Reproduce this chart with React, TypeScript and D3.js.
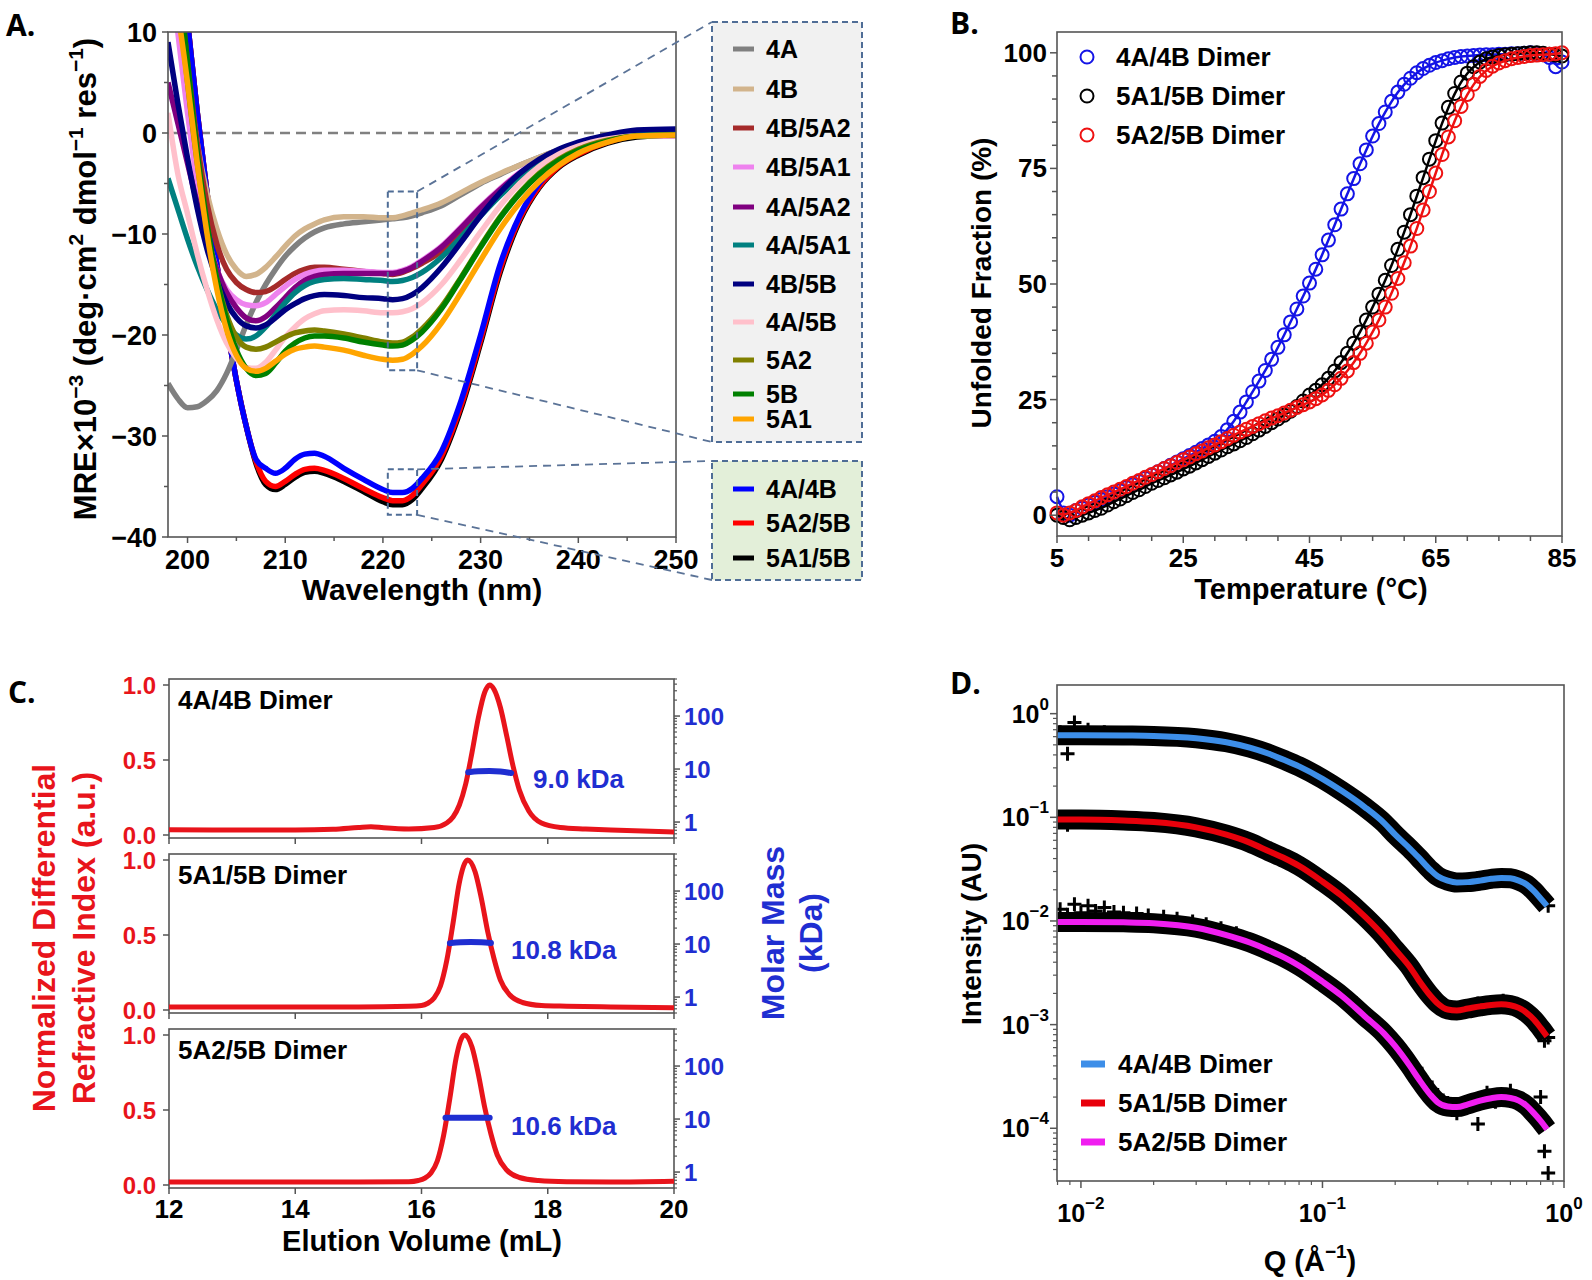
import React from 'react';
import * as d3 from 'd3';

const FONT = "'Liberation Sans', Arial, Helvetica, sans-serif";
const LETTER_FONT = "'Open Sans', 'Liberation Sans', sans-serif";

// ---------- A. CD spectra (MRE x10^-3) ----------
const wavelength = [198, 199, 200, 201, 202, 203, 204, 205, 206, 207, 208, 209, 210, 211, 212, 213, 214, 216, 218, 220, 221, 222, 223, 224, 226, 228, 230, 232, 234, 236, 238, 240, 243, 246, 250];
const cd4A = [-24.8, -26.3, -27.2, -27.1, -26.5, -25.5, -23.8, -21.5, -19, -16.8, -15, -13.5, -12.2, -11.2, -10.4, -9.8, -9.4, -9, -8.8, -8.6, -8.5, -8.4, -8.2, -7.9, -7.2, -6.1, -5, -4.1, -3.2, -2.4, -1.7, -1.1, -0.5, -0.3, -0.3];
const cd4B = [25, 15, 6, -1, -6, -9.5, -12, -13.5, -14.2, -14, -13.3, -12.3, -11.2, -10.2, -9.5, -9, -8.6, -8.3, -8.3, -8.4, -8.4, -8.2, -7.9, -7.6, -6.9, -5.9, -4.9, -4, -3.2, -2.4, -1.7, -1.1, -0.5, -0.3, -0.3];
const cd4B5A2 = [25, 16, 7, -1, -7, -11, -13.5, -14.8, -15.5, -15.8, -15.7, -15.2, -14.5, -13.9, -13.5, -13.3, -13.3, -13.5, -13.7, -13.9, -14, -13.8, -13.4, -12.9, -11.7, -9.8, -7.7, -5.7, -4, -2.8, -1.8, -1.1, -0.5, -0.3, -0.3];
const cd4B5A1 = [18, 10, 2, -5, -10, -13.5, -15.5, -16.5, -17, -17.1, -16.8, -16, -15.2, -14.5, -14, -13.7, -13.6, -13.6, -13.7, -13.8, -13.8, -13.6, -13.2, -12.6, -11.2, -9.3, -7.3, -5.5, -3.9, -2.7, -1.8, -1.1, -0.5, -0.3, -0.3];
const cd4A5A2 = [5, 1, -3, -7, -10.5, -13.5, -15.8, -17.3, -18.3, -18.6, -18.2, -17.3, -16.3, -15.3, -14.6, -14.2, -14, -13.9, -13.9, -13.9, -13.9, -13.7, -13.3, -12.7, -11.3, -9.4, -7.4, -5.6, -4, -2.8, -1.8, -1.1, -0.5, -0.3, -0.3];
const cd4A5A1 = [-4.5, -7.5, -10.5, -13.2, -15.5, -17.5, -19, -20, -20.4, -20.1, -19.2, -18, -16.8, -15.8, -15.1, -14.7, -14.5, -14.4, -14.5, -14.6, -14.7, -14.6, -14.3, -13.8, -12.3, -10.3, -8.2, -6.2, -4.4, -3, -1.9, -1.1, -0.4, -0.1, 0];
const cd4B5B = [9, 3, -2.5, -7.5, -11.5, -14.5, -16.8, -18.3, -19.1, -19.3, -19, -18.3, -17.5, -16.9, -16.4, -16.1, -16, -16.1, -16.3, -16.4, -16.5, -16.4, -16, -15.3, -13.3, -10.8, -8.2, -5.9, -4, -2.6, -1.6, -0.9, -0.2, 0.3, 0.4];
const cd4A5B = [2, -4, -8, -12, -15.5, -18.5, -20.8, -22.3, -23.2, -23.3, -22.7, -21.5, -20.2, -19.2, -18.4, -17.9, -17.6, -17.5, -17.6, -17.8, -17.8, -17.7, -17.4, -16.8, -15, -12.5, -9.8, -7.2, -5, -3.3, -2.1, -1.3, -0.6, -0.3, -0.3];
const cd5A2 = [22, 14, 5, -3, -9.5, -14.5, -18, -20.2, -21.2, -21.4, -21.2, -20.7, -20.2, -19.8, -19.6, -19.5, -19.6, -19.9, -20.3, -20.7, -20.8, -20.7, -20.2, -19.4, -17.2, -14.3, -11.2, -8.3, -5.9, -4, -2.6, -1.6, -0.7, -0.3, -0.2];
const cd5B = [25, 16, 7, -2, -9, -14.5, -18.5, -21.5, -23.3, -24, -23.8, -22.8, -21.6, -20.8, -20.3, -20.1, -20.1, -20.3, -20.7, -21, -21.1, -21, -20.5, -19.7, -17.4, -14.4, -11.3, -8.4, -6, -4.1, -2.7, -1.7, -0.8, -0.3, -0.2];
const cd5A1 = [18, 12, 5, -3, -10, -15.5, -19.5, -22, -23.3, -23.6, -23.3, -22.6, -21.9, -21.4, -21.2, -21.1, -21.2, -21.5, -22, -22.4, -22.5, -22.4, -21.9, -21.1, -18.8, -15.8, -12.6, -9.5, -6.9, -4.8, -3.2, -2, -0.9, -0.3, -0.2];
const cd4A4B = [30, 21, 11, 2, -6, -13, -19, -24.5, -29, -32.3, -33.2, -33.7, -33.2, -32.3, -31.8, -31.7, -32, -33.2, -34.3, -35.3, -35.6, -35.6, -35.2, -34.2, -31.5, -26.5, -20, -13, -8.2, -5, -3, -1.8, -0.6, 0, 0.2];
const cd5A25B = [30, 21, 11, 2, -6, -13, -19, -24.5, -29, -32.5, -34.5, -35, -34.5, -33.8, -33.3, -33.2, -33.4, -34.2, -35.2, -36.1, -36.4, -36.4, -35.9, -34.8, -32, -27, -20.5, -13.5, -8.5, -5.3, -3.3, -2.1, -0.9, -0.3, -0.2];
const cd5A15B = [30, 21, 11, 2, -6, -13, -19, -24.5, -29, -32.7, -34.8, -35.3, -34.8, -34.1, -33.6, -33.5, -33.7, -34.5, -35.5, -36.5, -36.8, -36.8, -36.3, -35.2, -32.3, -27.3, -20.8, -13.8, -8.7, -5.4, -3.4, -2.2, -1, -0.4, -0.2];

const cdPairs = [cd4A, cd4B, cd4B5A2, cd4B5A1, cd4A5A2, cd4A5A1, cd4B5B, cd4A5B, cd5A2, cd5B, cd5A1];
const cdPairNames = ['4A', '4B', '4B/5A2', '4B/5A1', '4A/5A2', '4A/5A1', '4B/5B', '4A/5B', '5A2', '5B', '5A1'];
const cdPairColors = ['#808080', '#d2b48c', '#a52a2a', '#ee82ee', '#800080', '#008080', '#000080', '#ffc0cb', '#808000', '#008000', '#ffa500'];
const cdDimers = [cd4A4B, cd5A25B, cd5A15B];
const cdDimerNames = ['4A/4B', '5A2/5B', '5A1/5B'];
const cdDimerColors = ['#0000ff', '#ff0000', '#000000'];

const wlTicks = [200, 205, 210, 215, 220, 225, 230, 235, 240, 245, 250];
const wlLabels = [200, 210, 220, 230, 240, 250];
const mreTicks = [-40, -35, -30, -25, -20, -15, -10, -5, 0, 5, 10];
const mreLabels = [-40, -30, -20, -10, 0, 10];
// zoomed regions [x0, x1, yTop, yBottom]
const zoomBoxes = [[220.5, 223.5, -5.8, -23.5], [220.5, 223.5, -33.3, -37.8]];

// ---------- B. thermal melts ----------
const tempC = [5, 6, 7, 8, 9, 10, 11, 12, 13, 14, 15, 16, 17, 18, 19, 20, 21, 22, 23, 24, 25, 26, 27, 28, 29, 30, 31, 32, 33, 34, 35, 36, 37, 38, 39, 40, 41, 42, 43, 44, 45, 46, 47, 48, 49, 50, 51, 52, 53, 54, 55, 56, 57, 58, 59, 60, 61, 62, 63, 64, 65, 66, 67, 68, 69, 70, 71, 72, 73, 74, 75, 76, 77, 78, 79, 80, 81, 82, 83, 84, 85];
const unf4A4B = [4.0, 0.5, 0.0, 1.0, 1.5, 2.2, 2.8, 3.4, 4.0, 4.6, 5.3, 6.0, 6.6, 7.3, 8.0, 8.7, 9.4, 10.1, 10.8, 11.5, 12.2, 12.9, 13.6, 14.4, 15.2, 16.0, 17.0, 18.5, 20.3, 22.3, 24.5, 26.7, 29.0, 31.3, 33.7, 36.3, 39.0, 41.8, 44.6, 47.4, 50.2, 53.2, 56.3, 59.5, 62.8, 66.2, 69.5, 72.8, 76.0, 79.0, 82.0, 84.7, 87.2, 89.5, 91.5, 93.2, 94.5, 95.7, 96.6, 97.3, 97.9, 98.3, 98.7, 99.0, 99.2, 99.3, 99.4, 99.5, 99.6, 99.6, 99.7, 99.7, 99.8, 99.8, 99.9, 100, 99.9, 99.6, 99.0, 97.0, 98.0];
const unf5A15B = [0.0, -0.5, -1.0, -0.5, 0.0, 0.5, 1.0, 1.5, 2.2, 2.9, 3.5, 4.2, 4.9, 5.5, 6.2, 6.9, 7.5, 8.1, 8.7, 9.3, 10.0, 10.6, 11.3, 12.0, 12.7, 13.4, 14.1, 14.8, 15.4, 16.1, 16.8, 17.6, 18.4, 19.2, 20.0, 20.8, 21.6, 22.5, 23.5, 24.7, 26.0, 27.0, 28.2, 29.6, 31.2, 33.0, 35.0, 37.2, 39.6, 42.2, 45.0, 47.8, 50.8, 54.0, 57.5, 61.2, 65.0, 69.0, 73.0, 77.0, 81.0, 84.8, 88.2, 91.2, 93.7, 95.6, 97.0, 98.0, 98.7, 99.1, 99.4, 99.6, 99.7, 99.8, 99.9, 100, 100, 99.9, 99.7, 99.5, 99.3];
const unf5A25B = [0.5, 0.0, 0.5, 1.0, 1.8, 2.5, 3.1, 3.8, 4.4, 5.0, 5.6, 6.2, 6.9, 7.5, 8.2, 8.8, 9.4, 10.1, 10.7, 11.4, 12.0, 12.6, 13.3, 13.9, 14.6, 15.2, 15.9, 16.6, 17.3, 18.0, 18.6, 19.2, 19.8, 20.4, 21.0, 21.5, 22.1, 22.7, 23.3, 23.9, 24.5, 25.2, 26.0, 27.0, 28.2, 29.6, 31.2, 33.0, 35.0, 37.2, 39.6, 42.2, 45.0, 48.0, 51.2, 54.6, 58.2, 62.0, 66.0, 70.0, 74.0, 78.0, 81.8, 85.3, 88.4, 91.0, 93.2, 94.9, 96.2, 97.1, 97.8, 98.3, 98.7, 99.0, 99.2, 99.4, 99.5, 99.6, 99.7, 99.8, 100];
const meltSeries = [unf4A4B, unf5A15B, unf5A25B];
const meltNames = ['4A/4B Dimer', '5A1/5B Dimer', '5A2/5B Dimer'];
const meltColors = ['#1414e6', '#000000', '#ee1111'];
const tempTicks = [5, 10, 15, 20, 25, 30, 35, 40, 45, 50, 55, 60, 65, 70, 75, 80, 85];
const tempLabels = [5, 25, 45, 65, 85];
const fracTicks = [0, 5, 10, 15, 20, 25, 30, 35, 40, 45, 50, 55, 60, 65, 70, 75, 80, 85, 90, 95, 100];
const fracLabels = [0, 25, 50, 75, 100];

// ---------- C. SEC-MALS ----------
const elution1 = [12, 13, 14, 14.6, 15.0, 15.2, 15.4, 15.8, 16.2, 16.4, 16.5, 16.6, 16.7, 16.8, 16.9, 17.0, 17.08, 17.15, 17.25, 17.35, 17.45, 17.55, 17.7, 17.9, 18.2, 18.6, 19, 20];
const dri1 = [0.035, 0.033, 0.033, 0.038, 0.05, 0.055, 0.048, 0.04, 0.05, 0.08, 0.12, 0.2, 0.34, 0.55, 0.78, 0.95, 1.0, 0.97, 0.85, 0.66, 0.46, 0.3, 0.16, 0.08, 0.05, 0.04, 0.033, 0.02];
const elution2 = [12, 14, 15, 15.8, 16.0, 16.1, 16.2, 16.3, 16.4, 16.5, 16.6, 16.73, 16.85, 16.95, 17.05, 17.15, 17.25, 17.4, 17.6, 17.9, 18.3, 19, 20];
const dri2 = [0.02, 0.02, 0.02, 0.025, 0.03, 0.045, 0.08, 0.16, 0.33, 0.58, 0.85, 1.0, 0.92, 0.74, 0.52, 0.34, 0.2, 0.1, 0.05, 0.03, 0.025, 0.02, 0.015];
const elution3 = [12, 14, 15, 15.8, 15.95, 16.05, 16.15, 16.25, 16.35, 16.45, 16.55, 16.68, 16.8, 16.9, 17.0, 17.1, 17.2, 17.35, 17.55, 17.85, 18.3, 19, 20];
const dri3 = [0.02, 0.02, 0.02, 0.022, 0.03, 0.045, 0.08, 0.16, 0.33, 0.58, 0.85, 1.0, 0.92, 0.74, 0.52, 0.34, 0.2, 0.1, 0.05, 0.03, 0.022, 0.02, 0.025];
const massVol1 = [16.74, 16.9, 17.08, 17.25, 17.42];
const mass1 = [8.7, 9.1, 9.2, 9.0, 8.4];
const massVol2 = [16.45, 16.62, 16.78, 16.95, 17.1];
const mass2 = [10.4, 10.8, 10.9, 10.8, 10.5];
const massVol3 = [16.38, 16.55, 16.73, 16.9, 17.08];
const mass3 = [10.6, 10.6, 10.6, 10.6, 10.6];
const secNames = ['4A/4B Dimer', '5A1/5B Dimer', '5A2/5B Dimer'];
const secMassLabels = ['9.0 kDa', '10.8 kDa', '10.6 kDa'];
const secMassValues = [9.0, 10.8, 10.6];
const volTicks = [12, 14, 16, 18, 20];
const driTicks = [0, 0.5, 1.0];
const massMajor = [1, 10, 100];

// ---------- D. SAXS ----------
const qFit = [0.008, 0.01, 0.015, 0.02, 0.03, 0.04, 0.05, 0.06, 0.07, 0.08, 0.1, 0.12, 0.15, 0.18, 0.2, 0.23, 0.25, 0.28, 0.3, 0.33, 0.36, 0.4, 0.45, 0.5, 0.55, 0.6, 0.65, 0.7, 0.75, 0.8, 0.85];
const fit4A4B = [0.62, 0.62, 0.615, 0.61, 0.58, 0.53, 0.47, 0.41, 0.355, 0.31, 0.235, 0.18, 0.125, 0.088, 0.068, 0.05, 0.041, 0.031, 0.027, 0.0245, 0.0235, 0.0237, 0.0245, 0.0255, 0.026, 0.0258, 0.0245, 0.0225, 0.0195, 0.0165, 0.014];
const fit5A15B = [0.095, 0.095, 0.093, 0.09, 0.08, 0.068, 0.057, 0.047, 0.04, 0.034, 0.024, 0.0175, 0.011, 0.0071, 0.0053, 0.0036, 0.0027, 0.0019, 0.0016, 0.0014, 0.00137, 0.00143, 0.0015, 0.00155, 0.00157, 0.00154, 0.00145, 0.0013, 0.00112, 0.00093, 0.00077];
const fit5A25B = [0.0098, 0.0098, 0.0097, 0.0095, 0.0086, 0.0073, 0.0062, 0.0052, 0.0044, 0.0037, 0.0026, 0.0019, 0.0012, 0.00082, 0.00062, 0.0004, 0.0003, 0.00021, 0.000178, 0.000162, 0.00016, 0.00017, 0.000185, 0.000195, 0.0002, 0.000196, 0.000185, 0.000165, 0.00014, 0.000118, 0.000098];
const qData = [0.0082, 0.0088, 0.0094, 0.01, 0.0107, 0.0115, 0.0125, 0.0137, 0.015, 0.017, 0.019, 0.022, 0.025, 0.029, 0.033, 0.038, 0.044, 0.05, 0.057, 0.065, 0.074, 0.084, 0.095, 0.108, 0.122, 0.138, 0.155, 0.175, 0.195, 0.22, 0.245, 0.27, 0.3, 0.33, 0.36, 0.4, 0.44, 0.48, 0.52, 0.56, 0.6, 0.64, 0.68, 0.72, 0.76, 0.8, 0.83, 0.86];
const obs4A4B = [0.66, 0.41, 0.82, 0.6, 0.7, 0.63, 0.66, 0.6, 0.64, 0.62, 0.6, 0.61, 0.6, 0.59, 0.57, 0.55, 0.51, 0.47, 0.43, 0.385, 0.34, 0.295, 0.255, 0.215, 0.18, 0.148, 0.12, 0.095, 0.077, 0.06, 0.047, 0.037, 0.029, 0.026, 0.024, 0.025, 0.026, 0.025, 0.027, 0.025, 0.027, 0.024, 0.024, 0.021, 0.02, 0.017, 0.016, 0.014];
const obs5A15B = [0.1, 0.085, 0.1, 0.093, 0.097, 0.09, 0.098, 0.092, 0.095, 0.093, 0.091, 0.09, 0.087, 0.083, 0.078, 0.072, 0.065, 0.058, 0.051, 0.044, 0.038, 0.032, 0.0265, 0.021, 0.0168, 0.0132, 0.0101, 0.0076, 0.0058, 0.0042, 0.0031, 0.0023, 0.0017, 0.00145, 0.0014, 0.0014, 0.0016, 0.0015, 0.0016, 0.0017, 0.0015, 0.0015, 0.0014, 0.0012, 0.0011, 0.0009, 0.0007, 0.00075];
const obs5A25B = [0.013, 0.0115, 0.0145, 0.012, 0.014, 0.0125, 0.0135, 0.0122, 0.012, 0.0118, 0.0113, 0.011, 0.0105, 0.0099, 0.0093, 0.0085, 0.0076, 0.0066, 0.0058, 0.0051, 0.0044, 0.0038, 0.0031, 0.0025, 0.002, 0.0016, 0.0012, 0.00095, 0.00072, 0.00052, 0.00038, 0.00028, 0.00021, 0.000175, 0.00014, 0.00017, 0.00011, 0.00022, 0.00018, 0.00021, 0.00023, 0.0002, 0.00017, 0.00015, 0.00012, 0.0002, 0.00006, 0.000037];
const saxsFits = [fit4A4B, fit5A15B, fit5A25B];
const saxsObs = [obs4A4B, obs5A15B, obs5A25B];
const saxsNames = ['4A/4B Dimer', '5A1/5B Dimer', '5A2/5B Dimer'];
const saxsColors = ['#3d8ee8', '#e8000b', '#f01ef0'];
const qMajor = [0.01, 0.1, 1];
const qExp = ['−2', '−1', '0'];
const iMajor = [1, 0.1, 0.01, 0.001, 0.0001];
const iExp = ['0', '−1', '−2', '−3', '−4'];

const minus = (v: number) => (v < 0 ? '−' + Math.abs(v) : String(v));
const FRAME = '#555';
const SEC_RED = '#e8141b';
const SEC_BLUE = '#1f2ed1';

const App = () => {
  // ----- A -----
  const aX = d3.scaleLinear().domain([198, 250]).range([168, 676]);
  const aY = d3.scaleLinear().domain([-40, 10]).range([537, 32]);
  const cdLine = d3.line<number>().x((_, i) => aX(wavelength[i])).y(d => aY(d)).curve(d3.curveMonotoneX);
  const legRows1 = [49, 89, 128, 167, 207, 245, 284, 322, 360, 394, 419];
  const legRows2 = [489, 523, 558];
  const box1 = { x: 712, y: 22, w: 150, h: 420 };
  const box2 = { x: 712, y: 461, w: 150, h: 119 };

  // ----- B -----
  const bX = d3.scaleLinear().domain([5, 85]).range([1057, 1562]);
  const bY = d3.scaleLinear().domain([-4.5, 104.5]).range([536, 32]);
  const meltLine = d3.line<number>().x((_, i) => bX(tempC[i])).y(d => bY(d)).curve(d3.curveBasis);
  const meltOrder = [0, 1, 2];
  const bLegRows = [57, 96, 135];

  // ----- C -----
  const cX = d3.scaleLinear().domain([12, 20]).range([169, 674]);
  const cTops = [679, 854, 1029];
  const cH = 159;
  const secData = [
    { vol: elution1, dri: dri1, mv: massVol1, m: mass1 },
    { vol: elution2, dri: dri2, mv: massVol2, m: mass2 },
    { vol: elution3, dri: dri3, mv: massVol3, m: mass3 },
  ];

  // ----- D -----
  const dX = d3.scaleLog().domain([0.00796, 1]).range([1057, 1564]);
  const dY = d3.scaleLog().domain([3.1e-5, 1.89]).range([1181, 685]);
  const saxsLine = d3.line<number>().x((_, i) => dX(qFit[i])).y(d => dY(d)).curve(d3.curveMonotoneX);
  const qMinor = dX.ticks().filter(t => !qMajor.some(m => Math.abs(m - t) / m < 1e-6));
  const iMinor = dY.ticks().filter(t => !iMajor.some(m => Math.abs(m - t) / m < 1e-6));
  const dLegRows = [1064, 1103, 1142];

  return (
    <svg width={1592} height={1280} style={{ position: 'absolute', left: 0, top: 0, background: '#fff' }}
      fontFamily={FONT} fontWeight="bold">
      <defs>
        <clipPath id="clipA"><rect x={168} y={32} width={508} height={505} /></clipPath>
        <clipPath id="clipB"><rect x={1040} y={32} width={540} height={504} /></clipPath>
        <clipPath id="clipD"><rect x={1057} y={685} width={507} height={496} /></clipPath>
      </defs>

      {/* ================= A ================= */}
      <text x={6} y={36} fontFamily={LETTER_FONT} fontSize={30} fontWeight="bold">A.</text>
      <g clipPath="url(#clipA)">
        <line x1={aX(198)} x2={aX(250)} y1={aY(0)} y2={aY(0)} stroke="#808080" strokeWidth={2.5} strokeDasharray="10,6" />
        {[2, 1, 0].map(i => (
          <path key={'dim' + i} d={cdLine(cdDimers[i]) || ''} fill="none" stroke={cdDimerColors[i]} strokeWidth={5.5} strokeLinejoin="round" />
        ))}
        {cdPairs.map((s, i) => (
          <path key={'pair' + i} d={cdLine(s) || ''} fill="none" stroke={cdPairColors[i]} strokeWidth={5.5} strokeLinejoin="round" />
        ))}
      </g>
      <rect x={168} y={32} width={508} height={505} fill="none" stroke={FRAME} strokeWidth={1.6} />
      {wlTicks.map(t => <line key={'awt' + t} x1={aX(t)} x2={aX(t)} y1={537} y2={wlLabels.includes(t) ? 543 : 541} stroke={FRAME} strokeWidth={1.5} />)}
      {wlLabels.map(t => <text key={'awl' + t} x={aX(t)} y={569} textAnchor="middle" fontSize={27}>{t}</text>)}
      {mreTicks.map(t => <line key={'amt' + t} x1={168} x2={mreLabels.includes(t) ? 162 : 164} y1={aY(t)} y2={aY(t)} stroke={FRAME} strokeWidth={1.5} />)}
      {mreLabels.map(t => <text key={'aml' + t} x={157} y={aY(t) + 10} textAnchor="end" fontSize={27}>{minus(t)}</text>)}
      <text x={422} y={600} textAnchor="middle" fontSize={30}>Wavelength (nm)</text>
      <text transform="translate(96,279) rotate(-90)" textAnchor="middle" fontSize={31}>
        MRE×10<tspan dy={-13} fontSize={21}>−3</tspan>
        <tspan dy={13}> (deg·cm</tspan><tspan dy={-13} fontSize={21}>2</tspan>
        <tspan dy={13}> dmol</tspan><tspan dy={-13} fontSize={21}>−1</tspan>
        <tspan dy={13}> res</tspan><tspan dy={-13} fontSize={21}>−1</tspan>
        <tspan dy={13}>)</tspan>
      </text>
      {/* zoom boxes and connectors */}
      {zoomBoxes.map((b, i) => (
        <rect key={'zb' + i} x={aX(b[0])} y={aY(b[2])} width={aX(b[1]) - aX(b[0])} height={aY(b[3]) - aY(b[2])}
          fill="none" stroke="#4f6d96" strokeWidth={2} strokeDasharray="6,4" />
      ))}
      {[
        [aX(zoomBoxes[0][1]), aY(zoomBoxes[0][2]), box1.x, box1.y],
        [aX(zoomBoxes[0][1]), aY(zoomBoxes[0][3]), box1.x, box1.y + box1.h],
        [aX(zoomBoxes[1][1]), aY(zoomBoxes[1][2]), box2.x, box2.y],
        [aX(zoomBoxes[1][1]), aY(zoomBoxes[1][3]), box2.x, box2.y + box2.h],
      ].map((l, i) => (
        <line key={'con' + i} x1={l[0]} y1={l[1]} x2={l[2]} y2={l[3]} stroke="#5b7397" strokeWidth={1.8} strokeDasharray="8,6" />
      ))}
      <rect x={box1.x} y={box1.y} width={box1.w} height={box1.h} fill="#f1f1f1" stroke="#4f6d96" strokeWidth={2} strokeDasharray="6,4" />
      {cdPairNames.map((n, i) => (
        <g key={'lg1' + i}>
          <line x1={733} x2={754} y1={legRows1[i]} y2={legRows1[i]} stroke={cdPairColors[i]} strokeWidth={5} />
          <text x={766} y={legRows1[i] + 9} fontSize={25}>{n}</text>
        </g>
      ))}
      <rect x={box2.x} y={box2.y} width={box2.w} height={box2.h} fill="#e3efd9" stroke="#4f6d96" strokeWidth={2} strokeDasharray="6,4" />
      {cdDimerNames.map((n, i) => (
        <g key={'lg2' + i}>
          <line x1={733} x2={754} y1={legRows2[i]} y2={legRows2[i]} stroke={cdDimerColors[i]} strokeWidth={5} />
          <text x={766} y={legRows2[i] + 9} fontSize={25}>{n}</text>
        </g>
      ))}

      {/* ================= B ================= */}
      <text x={950} y={34} fontFamily={LETTER_FONT} fontSize={30} fontWeight="bold">B.</text>
      <g clipPath="url(#clipB)">
        {meltOrder.map(si => (
          <g key={'ms' + si}>
            <path d={meltLine(meltSeries[si]) || ''} fill="none" stroke={meltColors[si]} strokeWidth={2.5} />
            {meltSeries[si].map((v, i) => (
              <circle key={i} cx={bX(tempC[i])} cy={bY(v)} r={6.5} fill="none" stroke={meltColors[si]} strokeWidth={2} />
            ))}
          </g>
        ))}
      </g>
      <rect x={1057} y={32} width={505} height={504} fill="none" stroke={FRAME} strokeWidth={1.6} />
      {tempTicks.map(t => <line key={'btt' + t} x1={bX(t)} x2={bX(t)} y1={536} y2={tempLabels.includes(t) ? 543 : 541} stroke={FRAME} strokeWidth={1.5} />)}
      {tempLabels.map(t => <text key={'btl' + t} x={bX(t)} y={567} textAnchor="middle" fontSize={26}>{t}</text>)}
      {fracTicks.map(t => <line key={'bft' + t} x1={1057} x2={fracLabels.includes(t) ? 1050 : 1052} y1={bY(t)} y2={bY(t)} stroke={FRAME} strokeWidth={1.5} />)}
      {fracLabels.map(t => <text key={'bfl' + t} x={1047} y={bY(t) + 9} textAnchor="end" fontSize={26}>{t}</text>)}
      <text x={1311} y={599} textAnchor="middle" fontSize={29}>Temperature (°C)</text>
      <text transform="translate(991,283) rotate(-90)" textAnchor="middle" fontSize={28}>Unfolded Fraction (%)</text>
      {meltNames.map((n, i) => (
        <g key={'blg' + i}>
          <circle cx={1087} cy={bLegRows[i]} r={6.5} fill="none" stroke={meltColors[i]} strokeWidth={2} />
          <text x={1116} y={bLegRows[i] + 9} fontSize={26}>{n}</text>
        </g>
      ))}

      {/* ================= C ================= */}
      <text x={8} y={703} fontFamily={LETTER_FONT} fontSize={30} fontWeight="bold">C.</text>
      {secData.map((s, k) => {
        const top = cTops[k];
        const yL = d3.scaleLinear().domain([-0.02, 1.04]).range([top + cH, top]);
        const yR = d3.scaleLog().domain([0.5, 500]).range([top + cH, top]);
        const riLine = d3.line<number>().x((_, i) => cX(s.vol[i])).y(d => yL(d)).curve(d3.curveMonotoneX);
        const mLine = d3.line<number>().x((_, i) => cX(s.mv[i])).y(d => yR(d)).curve(d3.curveMonotoneX);
        const rMinor = yR.ticks().filter(t => !massMajor.includes(t));
        return (
          <g key={'sec' + k}>
            <rect x={169} y={top} width={505} height={cH} fill="none" stroke={FRAME} strokeWidth={1.6} />
            <path d={riLine(s.dri) || ''} fill="none" stroke={SEC_RED} strokeWidth={5} strokeLinejoin="round" />
            <path d={mLine(s.m) || ''} fill="none" stroke={SEC_BLUE} strokeWidth={6} strokeLinecap="round" />
            <text x={178} y={top + 30} fontSize={26}>{secNames[k]}</text>
            <text x={k === 0 ? 533 : 511} y={yR(secMassValues[k]) + 17} fontSize={26} fill={SEC_BLUE}>{secMassLabels[k]}</text>
            {volTicks.map(t => <line key={'cvt' + t} x1={cX(t)} x2={cX(t)} y1={top + cH} y2={top + cH + 6} stroke={FRAME} strokeWidth={1.5} />)}
            {driTicks.map(t => (
              <g key={'cdt' + t}>
                <line x1={169} x2={163} y1={yL(t)} y2={yL(t)} stroke={FRAME} strokeWidth={1.5} />
                <text x={156} y={yL(t) + 9} textAnchor="end" fontSize={24} fill={SEC_RED}>{t.toFixed(1)}</text>
              </g>
            ))}
            {rMinor.map(t => <line key={'crm' + t} x1={674} x2={677} y1={yR(t)} y2={yR(t)} stroke={FRAME} strokeWidth={1.2} />)}
            {massMajor.map(t => (
              <g key={'crt' + t}>
                <line x1={674} x2={680} y1={yR(t)} y2={yR(t)} stroke={FRAME} strokeWidth={1.5} />
                <text x={684} y={yR(t) + 9} fontSize={24} fill={SEC_BLUE}>{t}</text>
              </g>
            ))}
          </g>
        );
      })}
      {volTicks.map(t => <text key={'cvl' + t} x={cX(t)} y={1218} textAnchor="middle" fontSize={26}>{t}</text>)}
      <text x={422} y={1251} textAnchor="middle" fontSize={29}>Elution Volume (mL)</text>
      <text transform="translate(55,938) rotate(-90)" textAnchor="middle" fontSize={32} fill={SEC_RED}>Normalized Differential</text>
      <text transform="translate(95,938) rotate(-90)" textAnchor="middle" fontSize={32} fill={SEC_RED}>Refractive Index (a.u.)</text>
      <text transform="translate(784,933) rotate(-90)" textAnchor="middle" fontSize={32} fill={SEC_BLUE}>Molar Mass</text>
      <text transform="translate(822,933) rotate(-90)" textAnchor="middle" fontSize={32} fill={SEC_BLUE}>(kDa)</text>

      {/* ================= D ================= */}
      <text x={950} y={694} fontFamily={LETTER_FONT} fontSize={30} fontWeight="bold">D.</text>
      <g clipPath="url(#clipD)">
        {saxsFits.map((f, k) => (
          <path key={'band' + k} d={saxsLine(f) || ''} fill="none" stroke="#000" strokeWidth={20} strokeLinejoin="round" />
        ))}
        {saxsObs.map((o, k) => (
          <g key={'obs' + k}>
            {o.map((v, i) => (
              <path key={i} transform={`translate(${dX(qData[i])},${dY(v)})`} d="M-7,0H7M0,-7V7" stroke="#000" strokeWidth={3} />
            ))}
          </g>
        ))}
        {saxsFits.map((f, k) => (
          <path key={'fit' + k} d={saxsLine(f) || ''} fill="none" stroke={saxsColors[k]} strokeWidth={6} strokeLinejoin="round" />
        ))}
      </g>
      <rect x={1057} y={685} width={507} height={496} fill="none" stroke={FRAME} strokeWidth={1.6} />
      {qMinor.map(t => <line key={'dqm' + t} x1={dX(t)} x2={dX(t)} y1={1181} y2={1185} stroke={FRAME} strokeWidth={1.2} />)}
      {qMajor.map((t, i) => (
        <g key={'dqt' + t}>
          <line x1={dX(t)} x2={dX(t)} y1={1181} y2={1188} stroke={FRAME} strokeWidth={1.5} />
          <text x={dX(t)} y={1222} textAnchor="middle" fontSize={25}>10<tspan dy={-13} fontSize={17}>{qExp[i]}</tspan></text>
        </g>
      ))}
      {iMinor.map(t => <line key={'dim' + t} x1={1057} x2={1053} y1={dY(t)} y2={dY(t)} stroke={FRAME} strokeWidth={1.2} />)}
      {iMajor.map((t, i) => (
        <g key={'dit' + t}>
          <line x1={1057} x2={1050} y1={dY(t)} y2={dY(t)} stroke={FRAME} strokeWidth={1.5} />
          <text x={1049} y={dY(t) + 9} textAnchor="end" fontSize={25}>10<tspan dy={-13} fontSize={17}>{iExp[i]}</tspan></text>
        </g>
      ))}
      <text x={1310} y={1271} textAnchor="middle" fontSize={29}>Q (Å<tspan dy={-13} fontSize={19}>−1</tspan><tspan dy={13}>)</tspan></text>
      <text transform="translate(981,934) rotate(-90)" textAnchor="middle" fontSize={28}>Intensity (AU)</text>
      {saxsNames.map((n, i) => (
        <g key={'dlg' + i}>
          <line x1={1081} x2={1105} y1={dLegRows[i]} y2={dLegRows[i]} stroke={saxsColors[i]} strokeWidth={7} />
          <text x={1118} y={dLegRows[i] + 9} fontSize={26}>{n}</text>
        </g>
      ))}
    </svg>
  );
};

export default App;
